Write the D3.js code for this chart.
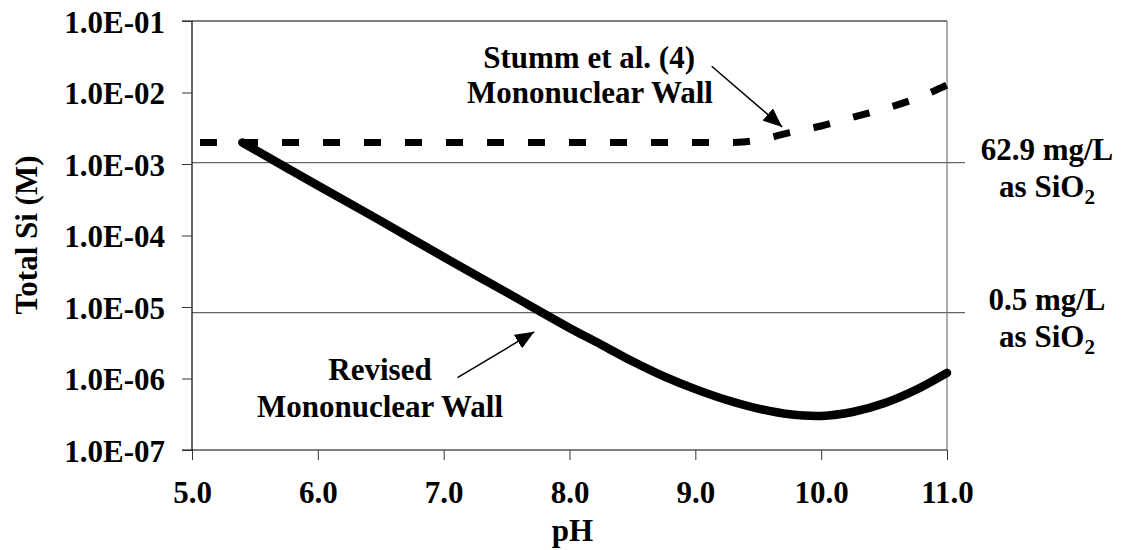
<!DOCTYPE html>
<html>
<head>
    <meta charset="utf-8">
    <script src="https://cdn.jsdelivr.net/npm/d3@7"></script>
    <style>
        * { margin: 0; padding: 0; }
        body { background: #fff; }
    </style>
</head>
<body>
    <svg id="chart" width="1125" height="550"></svg>
    <script>
        // axis ticks
        var xTicks = [5, 6, 7, 8, 9, 10, 11];
        var xTickLabels = ["5.0", "6.0", "7.0", "8.0", "9.0", "10.0", "11.0"];
        var yTicks = [1e-7, 1e-6, 1e-5, 1e-4, 1e-3, 1e-2, 1e-1];
        var yTickLabels = ["1.0E-07", "1.0E-06", "1.0E-05", "1.0E-04", "1.0E-03", "1.0E-02", "1.0E-01"];

        // Revised mononuclear wall (solid)
        var revisedPH = [5.4, 6.0, 6.5, 7.0, 7.5, 8.0, 8.25, 8.5, 8.75, 9.0, 9.25, 9.5, 9.75, 10.0, 10.25, 10.5, 10.75, 11.0];
        var revisedSi = [2.0e-3, 5.0e-4, 1.6e-4, 5.0e-5, 1.6e-5, 5.1e-6, 3.0e-6, 1.74e-6, 1.07e-6, 7.1e-7, 5.0e-7, 3.8e-7, 3.16e-7, 3.0e-7, 3.4e-7, 4.5e-7, 6.9e-7, 1.2e-6];

        // Stumm et al. (4) mononuclear wall (dashed)
        var stummPH = [5.0, 9.3, 9.4, 9.55, 9.75, 10.0, 10.25, 10.5, 10.75, 11.0];
        var stummSi = [2.0e-3, 2.0e-3, 2.05e-3, 2.25e-3, 2.75e-3, 3.4e-3, 4.5e-3, 5.9e-3, 8.2e-3, 1.27e-2];

        // reference concentrations (M)
        var refLabels = ["62.9 mg/L", "0.5 mg/L"];
        var refValues = [1.047e-3, 8.32e-6];

        var svg = d3.select("#chart");

        var x = d3.scaleLinear().domain([5, 11]).range([192, 947]);
        var y = d3.scaleLog().domain([1e-7, 1e-1]).range([450, 21]);

        var defs = svg.append("defs");
        defs.append("marker")
            .attr("id", "arrow")
            .attr("viewBox", "0 0 10 10")
            .attr("refX", 10).attr("refY", 5)
            .attr("markerUnits", "userSpaceOnUse")
            .attr("markerWidth", 19).attr("markerHeight", 16)
            .attr("preserveAspectRatio", "none")
            .attr("orient", "auto")
            .append("path")
            .attr("d", "M0,0 L10,5 L0,10 z")
            .attr("fill", "#000");

        // reference lines, running a little past the right edge
        svg.selectAll(".ref").data(refValues).enter()
            .append("line")
            .attr("class", "ref")
            .attr("x1", x(5)).attr("x2", x(11) + 18)
            .attr("y1", function (d) { return y(d); })
            .attr("y2", function (d) { return y(d); })
            .attr("stroke", "#666").attr("stroke-width", 1.2);

        // top border and right border
        svg.append("line")
            .attr("x1", x(5) - 10).attr("x2", x(11))
            .attr("y1", y(1e-1)).attr("y2", y(1e-1))
            .attr("stroke", "#000").attr("stroke-width", 1.2);
        svg.append("line")
            .attr("x1", x(11)).attr("x2", x(11))
            .attr("y1", y(1e-1)).attr("y2", y(1e-7))
            .attr("stroke", "#777").attr("stroke-width", 1.2);

        // axes
        var xAxis = svg.append("g")
            .attr("transform", "translate(0," + y(1e-7) + ")")
            .call(d3.axisBottom(x).tickValues(xTicks).tickSize(10).tickSizeOuter(0)
                .tickFormat(function (d, i) { return xTickLabels[i]; }));
        xAxis.select(".domain").attr("stroke", "#000").attr("stroke-width", 1.2)
            .attr("d", "M" + (x(5) - 10) + ",0H" + x(11));
        xAxis.selectAll(".tick line").attr("stroke", "#333");
        xAxis.selectAll(".tick text")
            .attr("y", 53).attr("dy", null);

        var yAxis = svg.append("g")
            .attr("transform", "translate(" + x(5) + ",0)")
            .call(d3.axisLeft(y).tickValues(yTicks).tickSize(10).tickSizeOuter(0)
                .tickFormat(function (d, i) { return yTickLabels[i]; }));
        yAxis.select(".domain").attr("stroke", "#000").attr("stroke-width", 1.2)
            .attr("d", "M0," + y(1e-1) + "V" + y(1e-7));
        yAxis.selectAll(".tick line").attr("stroke", "#333");
        yAxis.selectAll(".tick text")
            .attr("x", -27).attr("dy", "11px");

        svg.selectAll(".domain").attr("fill", "none");

        // curves
        var line = d3.line()
            .x(function (d) { return x(d[0]); })
            .y(function (d) { return y(d[1]); });

        svg.append("path")
            .datum(stummPH.map(function (p, i) { return [p, stummSi[i]]; }))
            .attr("d", line.curve(d3.curveMonotoneX))
            .attr("fill", "none")
            .attr("stroke", "#000")
            .attr("stroke-width", 7)
            .attr("stroke-dasharray", "17,24")
            .attr("stroke-dashoffset", 33);

        svg.append("path")
            .datum(revisedPH.map(function (p, i) { return [p, revisedSi[i]]; }))
            .attr("d", line.curve(d3.curveCatmullRom))
            .attr("fill", "none")
            .attr("stroke", "#000")
            .attr("stroke-width", 8.5)
            .attr("stroke-linecap", "round")
            .attr("stroke-linejoin", "round");

        // axis titles
        svg.append("text")
            .attr("x", x(8) + 3).attr("y", 541)
            .attr("text-anchor", "middle")
            .text("pH");

        svg.append("text")
            .attr("transform", "translate(37," + 235 + ") rotate(-90)")
            .attr("text-anchor", "middle")
            .text("Total Si (M)");

        // reference line labels on the right
        refValues.forEach(function (v, i) {
            var yy = y(v);
            svg.append("text")
                .attr("x", 1047).attr("y", yy - 3)
                .attr("text-anchor", "middle")
                .text(refLabels[i]);
            var t = svg.append("text")
                .attr("x", 1047).attr("y", yy + 34)
                .attr("text-anchor", "middle");
            t.append("tspan").text("as SiO");
            t.append("tspan").attr("dy", 7).style("font-size", "21px").text("2");
        });

        // annotations
        svg.append("text")
            .attr("x", 695).attr("y", 68)
            .attr("text-anchor", "end")
            .text("Stumm et al. (4)");
        svg.append("text")
            .attr("x", 713).attr("y", 103)
            .attr("text-anchor", "end")
            .text("Mononuclear Wall");

        svg.append("text")
            .attr("x", 380).attr("y", 380)
            .attr("text-anchor", "middle")
            .text("Revised");
        svg.append("text")
            .attr("x", 380).attr("y", 417)
            .attr("text-anchor", "middle")
            .text("Mononuclear Wall");

        // arrows, anchored in data space
        svg.append("line")
            .attr("x1", x(9.13)).attr("y1", y(2.33e-2))
            .attr("x2", x(9.69)).attr("y2", y(3.3e-3))
            .attr("stroke", "#000").attr("stroke-width", 1.5)
            .attr("marker-end", "url(#arrow)");
        svg.append("line")
            .attr("x1", x(7.11)).attr("y1", y(1.03e-6))
            .attr("x2", x(7.72)).attr("y2", y(4.5e-6))
            .attr("stroke", "#000").attr("stroke-width", 1.5)
            .attr("marker-end", "url(#arrow)");

        // one font for every label
        svg.selectAll("g").attr("font-family", null).attr("font-size", null);
        svg.selectAll("text")
            .style("font-family", "'Liberation Serif'")
            .style("font-weight", "bold")
            .style("font-size", "31px")
            .style("fill", "#000");
    </script>
</body>
</html>
